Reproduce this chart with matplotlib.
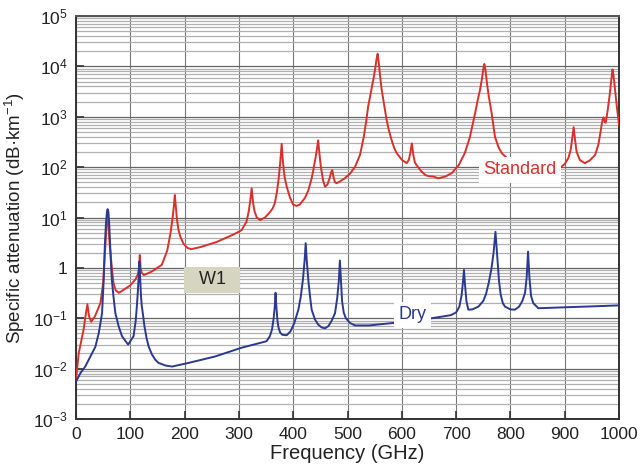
import matplotlib
matplotlib.use("Agg")
import matplotlib.pyplot as plt
from matplotlib.ticker import FixedLocator, LogLocator, NullFormatter

plt.rcParams['font.family'] = ['Liberation Sans', 'DejaVu Sans']
plt.rcParams['mathtext.fontset'] = 'custom'
plt.rcParams['mathtext.rm'] = 'Liberation Sans'
plt.rcParams['mathtext.it'] = 'Liberation Sans'
plt.rcParams['mathtext.default'] = 'regular'

# Standard atmosphere (red)
std_f = [0, 5, 14, 18, 21, 24, 28, 35, 45, 50, 54, 58, 62, 66, 69, 73, 79, 90, 100, 110, 114, 116,
         117.5, 119, 121, 125, 140, 158, 168, 174, 178, 180.5, 182, 183.5, 186, 189, 192, 198, 205,
         212, 230, 260, 290, 305, 314, 318, 321, 323.5, 326, 329, 333, 339, 348, 355, 362, 366, 370,
         373, 376, 378.8, 381, 384, 388, 394, 400, 406, 412, 421.7, 428, 434, 437, 441, 444, 446,
         448, 451, 455, 458.6, 463, 467, 470, 472, 474, 477, 480, 486, 495, 505, 514, 523, 530, 535,
         538, 541.5, 545, 547.5, 551, 553.5, 555.5, 557.5, 560, 563, 568, 572, 576, 581, 586, 590.5,
         600, 609, 613, 616, 618.5, 621, 624, 627, 635, 643, 650, 658, 667, 680, 692, 705, 716, 725,
         735, 740, 744, 748, 750.5, 752, 754, 757, 760, 765.5, 771.6, 778, 784, 800, 830, 870, 891,
         900, 906.7, 911, 914, 916.5, 919, 922, 928, 937, 946, 956, 962, 966, 968, 970, 971.5, 973.5,
         975.5, 979, 983, 986, 988, 990, 993, 996, 1000]
std_v = [0.006, 0.02, 0.06, 0.12, 0.19, 0.11, 0.085, 0.11, 0.2, 0.5, 2.6, 14.5, 3.0, 1.0, 0.5, 0.36,
         0.32, 0.38, 0.45, 0.6, 0.75, 1.0, 1.8, 1.0, 0.8, 0.72, 0.85, 1.15, 2.2, 4.9, 10, 18, 28, 18,
         9, 5.5, 4.2, 3.0, 2.5, 2.35, 2.6, 3.3, 4.6, 5.6, 8.3, 13, 22, 38, 20, 13, 10, 8.9, 10, 12, 15,
         19, 32, 56, 120, 290, 130, 65, 41, 25, 18, 17, 18, 24.5, 35, 60, 87, 150, 240, 340, 200, 100,
         55, 41, 45, 60, 80, 87, 65, 50, 48, 52, 60, 75, 102, 174, 400, 900, 1590, 2500, 4000, 5400,
         9000, 14000, 17800, 12000, 6500, 3400, 1590, 870, 550, 350, 240, 190, 140, 120, 140, 200, 296,
         180, 125, 110, 85, 70, 66, 65, 60, 65, 76, 110, 190, 380, 1170, 2200, 3400, 6000, 9500, 11200,
         8500, 4500, 2600, 1170, 400, 250, 190, 130, 110, 90, 96, 115, 151, 220, 380, 620, 350, 200,
         138, 120, 135, 174, 280, 500, 690, 900, 970, 800, 760, 1300, 2800, 5500, 8700, 6500, 3200,
         1590, 690]

# Dry air (blue)
dry_f = [0, 8, 17, 26, 35.6, 41.8, 45, 48, 51, 53, 55, 57, 58.3, 59.5, 61, 63, 66, 69, 72.5, 78.6,
         84.7, 96, 106, 110, 112, 114, 115.5, 116.8, 118, 119.5, 121, 123, 126, 130, 134, 140, 146,
         152, 165, 177, 207.5, 256, 305, 351, 357, 361, 364, 366, 367.5, 369, 371, 373, 376, 380, 388,
         395, 402, 409.5, 414, 418, 421, 423, 425, 428, 431, 434, 440, 446, 452, 458.5, 465, 471, 477,
         481, 484, 486, 488, 490, 493, 497, 505, 514, 540, 581, 655, 690, 700, 706, 710, 712.5, 714.5,
         716.5, 719, 722.5, 730, 741, 750, 755, 760, 765, 769, 772.5, 775, 777, 779, 782, 786, 790,
         800, 808.5, 816, 822, 827, 830, 832.5, 835, 838, 842, 851.5, 900, 950, 1000]
dry_v = [0.0055, 0.0081, 0.011, 0.017, 0.027, 0.05, 0.08, 0.126, 0.58, 2.6, 7, 13, 14.5, 13.5, 8, 2.6,
         0.58, 0.27, 0.126, 0.069, 0.044, 0.03, 0.044, 0.09, 0.17, 0.35, 0.7, 1.35, 0.7, 0.3, 0.18,
         0.126, 0.07, 0.04, 0.027, 0.019, 0.015, 0.013, 0.0115, 0.011, 0.013, 0.0174, 0.026, 0.035,
         0.044, 0.06, 0.1, 0.17, 0.32, 0.17, 0.09, 0.065, 0.052, 0.047, 0.046, 0.055, 0.08, 0.148,
         0.27, 0.6, 1.4, 3.1, 1.4, 0.55, 0.27, 0.148, 0.095, 0.075, 0.066, 0.063, 0.07, 0.09, 0.126,
         0.25, 0.55, 1.4, 0.55, 0.22, 0.13, 0.1, 0.08, 0.072, 0.072, 0.08, 0.1, 0.115, 0.13, 0.17,
         0.28, 0.5, 0.91, 0.45, 0.22, 0.148, 0.15, 0.17, 0.22, 0.3, 0.5, 0.95, 2.0, 5.2, 2.2, 1.1,
         0.55, 0.3, 0.2, 0.17, 0.15, 0.148, 0.17, 0.22, 0.32, 0.65, 2.1, 0.65, 0.28, 0.2, 0.158,
         0.165, 0.172, 0.18]

x_ticks = [0, 100, 200, 300, 400, 500, 600, 700, 800, 900, 1000]
y_ticks = [1e-3, 1e-2, 1e-1, 1, 10, 1e2, 1e3, 1e4, 1e5]
y_labels = [r'$10^{-3}$', r'$10^{-2}$', r'$10^{-1}$', '1', r'$10^{1}$', r'$10^{2}$',
            r'$10^{3}$', r'$10^{4}$', r'$10^{5}$']

red = '#d9302a'
blue = '#2b3990'

fig = plt.figure(figsize=(6.41, 4.70), dpi=100)
ax = fig.add_axes([76/641, 1-419/470, (619-76)/641, (419-16)/470])
ax.set_yscale('log')
ax.set_xlim(0, 1000)
ax.set_ylim(1e-3, 1e5)

ax.plot(std_f, std_v, color=red, lw=1.4, zorder=3, solid_joinstyle='round')
ax.plot(dry_f, dry_v, color=blue, lw=1.4, zorder=4, solid_joinstyle='round')

ax.xaxis.set_major_locator(FixedLocator(x_ticks))
ax.set_xticklabels([str(t) for t in x_ticks])
ax.yaxis.set_major_locator(FixedLocator(y_ticks))
ax.set_yticklabels(y_labels)
ax.yaxis.set_minor_locator(LogLocator(base=10, subs=range(2, 10), numticks=20))
ax.yaxis.set_minor_formatter(NullFormatter())

ax.grid(True, which='major', axis='x', color='#777777', lw=0.8)
ax.grid(True, which='major', axis='y', color='#666666', lw=0.9)
ax.grid(True, which='minor', axis='y', color='#b0b0b0', lw=0.9)
ax.set_axisbelow(True)

ax.tick_params(which='major', direction='in', length=6, width=1.2, colors='#333333',
               labelsize=12.5, labelcolor='#222222', pad=6)
ax.tick_params(which='minor', length=0)
for s in ax.spines.values():
    s.set_color('#333333')
    s.set_linewidth(1.4)
ax.spines['top'].set_color('#555555')

ax.set_xlabel('Frequency (GHz)', fontsize=14.5, color='#222222', labelpad=1)
ax.set_ylabel('Specific attenuation (dB·km$^{-1}$)', fontsize=13.5, color='#222222', labelpad=4)

ax.text(818, 88, 'Standard', color=red, fontsize=13, ha='center', va='center', zorder=6,
        bbox=dict(boxstyle='square,pad=0.25', facecolor='white', edgecolor='none'))
ax.text(619, 0.117, 'Dry', color=blue, fontsize=13, ha='center', va='center', zorder=6,
        bbox=dict(boxstyle='square,pad=0.25', facecolor='white', edgecolor='none'))
ax.text(250.5, 0.578, '  W1  ', color='#222222', fontsize=13, ha='center', va='center', zorder=6,
        bbox=dict(boxstyle='square,pad=0.25', facecolor='#d6d6c0', edgecolor='none'))

fig.savefig('out.png', dpi=100)
